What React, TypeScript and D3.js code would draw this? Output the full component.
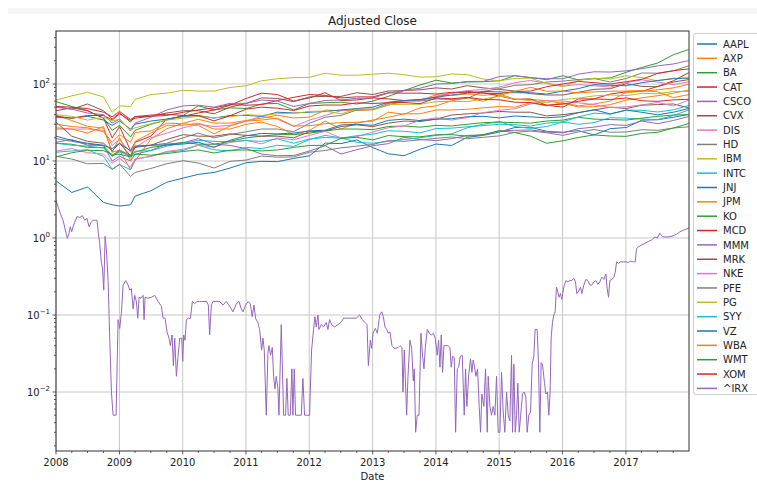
import React from "react";
import * as d3 from "d3";

const stockDates = [
  "2008-01-02", "2008-04-01", "2008-07-01", "2008-10-01", "2008-11-20", "2009-01-02", "2009-03-06", "2009-04-01", "2009-07-01", "2009-10-01",
  "2010-01-04", "2010-04-01", "2010-07-01", "2010-10-01",
  "2011-01-03", "2011-04-01", "2011-07-01", "2011-10-03",
  "2012-01-03", "2012-04-02", "2012-07-02", "2012-10-01",
  "2013-01-02", "2013-04-01", "2013-07-01", "2013-10-01",
  "2014-01-02", "2014-04-01", "2014-07-01", "2014-10-01",
  "2015-01-02", "2015-04-01", "2015-07-01", "2015-10-01",
  "2016-01-04", "2016-04-01", "2016-07-01", "2016-10-03",
  "2017-01-03", "2017-04-03", "2017-07-03", "2017-10-02",
  "2017-12-29",
];

const AAPL = [5.5, 3.9, 4.6, 2.9, 2.7, 2.6, 2.7, 3.5, 4.1, 5.3, 6.0, 6.7, 7.1, 8.1, 9.5, 9.9, 9.8, 10.8, 11.7, 17.1, 16.8, 18.8, 14.9, 12.4, 11.7, 14.2, 16.6, 15.9, 20.3, 21.5, 23.8, 27.2, 27.4, 24.3, 23.6, 24.8, 21.8, 26.3, 27.2, 33.9, 34.3, 37.0, 40.3];
const AXP = [39.5, 33.5, 28.2, 26.7, 13, 13.8, 7.7, 10.0, 19.2, 26.2, 30.9, 34.8, 31, 31.1, 33.6, 36, 39.2, 36.2, 37.1, 45.8, 45.1, 45.2, 46.1, 53.4, 60, 61, 72.3, 70.9, 74.3, 71.3, 73.9, 63.6, 62.9, 60.6, 56, 50.4, 50.6, 54, 61.7, 66.1, 70.5, 75.8, 83.6];
const BA = [59, 51, 45, 36, 25, 29, 20.5, 25, 30, 34, 39, 52, 46, 49, 48, 55, 56, 46, 56, 57, 58, 55, 60, 69, 82, 97, 112, 103, 106, 107, 110, 128, 121, 114, 128, 113, 117, 120, 142, 164, 187, 240, 280];
const CAT = [45, 49, 45, 36, 20, 28, 13.6, 17.5, 21, 35, 38, 42, 46, 53, 65, 76, 73, 60, 66, 77, 61, 62, 66, 64, 61, 62, 68, 76, 80, 77, 70, 63, 64, 53, 50, 64, 64, 74, 79, 80, 93, 110, 140];
const CSCO = [19.5, 18, 16.6, 15.8, 10, 11.5, 10, 12.2, 13.7, 16.6, 17.3, 19.5, 16.6, 15.9, 14.5, 12.3, 11.7, 11.8, 13.5, 15.8, 12.3, 14, 15.8, 16.8, 20.3, 19, 18.4, 19.5, 21.5, 21.8, 24.7, 25, 25.3, 23.8, 23.2, 26.3, 27.5, 29.7, 29, 33, 30.5, 33.6, 37.8];
const CVX = [51, 47, 55, 45, 35, 42, 32, 38, 38, 42, 45, 45, 41, 50, 56, 66, 65, 59, 68, 69, 69, 77, 73, 81, 82, 84, 89, 86, 95, 89, 85, 81, 75, 72, 72, 78, 85, 87, 101, 93, 92, 106, 114];
const DIS = [27, 26, 26, 25, 16, 19, 13, 15, 20, 23, 27, 30, 28, 29, 33, 38, 35, 28, 34, 39, 45, 47, 47, 53, 60, 61, 69, 76, 82, 85, 91, 104, 111, 102, 94, 98, 95, 91, 104, 113, 106, 98, 107];
const HD = [17.5, 19, 16, 16, 11.7, 14, 11.7, 15.6, 16, 17, 20, 23, 20, 22, 24, 26, 26, 24, 31, 37, 39, 46, 47, 56, 61, 60, 64, 63, 65, 80, 87, 96, 98, 106, 109, 114, 118, 106, 118, 139, 138, 148, 172];
const IBM = [62, 70, 78, 68, 43, 52, 51, 63, 73, 76, 83, 81, 81, 90, 95, 110, 117, 121, 122, 138, 130, 130, 134, 138, 132, 123, 124, 135, 132, 116, 110, 118, 119, 102, 92, 111, 119, 116, 128, 121, 110, 119, 118];
const INTC = [13, 13.5, 14, 11.5, 7.8, 9, 7.7, 10.5, 11.5, 13, 13.7, 16, 14, 13.5, 15, 14.5, 16, 15.5, 19, 21.5, 20, 17.5, 17, 18, 19, 20, 21.5, 22.5, 27, 30, 32.5, 28, 26.5, 28, 32, 30, 31.5, 36.5, 36, 35, 34.5, 39, 46];
const JNJ = [37, 36, 38, 34, 29, 33, 26, 30, 33, 35, 38, 39, 36, 39, 39, 38, 43, 42, 43, 44, 46, 48, 50, 58, 61, 63, 67, 72, 76, 80, 79, 77, 77, 74, 81, 87, 98, 96, 95, 104, 111, 117, 120];
const JPM = [26, 26, 23, 28, 13, 20, 10, 18, 23, 29, 29, 31, 26, 26, 30, 32, 28, 22, 25, 33, 26, 31, 34, 37, 41, 41, 46, 46, 47, 49, 51, 50, 57, 52, 57, 52, 55, 60, 78, 80, 84, 89, 99];
const KO = [17, 16.5, 15, 15, 11.6, 13.5, 11.5, 13, 15, 16, 17.5, 16.5, 16.5, 18, 20, 21, 22, 22, 23, 24.5, 26, 26, 25.5, 28, 28.5, 27.5, 29, 28.5, 30, 31.5, 32, 31.5, 31, 33, 34, 37, 35, 34.5, 34, 36, 38, 39.5, 40];
const MCD = [38, 36, 39, 39, 34, 41, 33.5, 36, 38, 39, 43, 46, 49, 54, 53, 54, 61, 67, 73, 71, 66, 68, 68, 77, 76, 76, 74, 78, 78, 76, 75, 80, 81, 92, 100, 108, 104, 100, 107, 115, 137, 149, 157];
const MMM = [50, 47, 42, 40, 31, 35, 24.5, 31, 37, 46, 52, 53, 50, 56, 56, 62, 60, 51, 56, 61, 62, 65, 66, 76, 83, 88, 100, 101, 108, 108, 125, 128, 121, 117, 117, 134, 144, 143, 148, 158, 172, 182, 201];
const MRK = [32, 21, 18, 17, 13.5, 17, 11.7, 15, 16, 19, 22, 21, 21, 22.5, 21.5, 21, 21, 20, 24, 24.5, 28, 29.5, 28, 31, 33, 32.5, 35, 39.5, 41, 42, 44, 43, 43, 38.5, 40, 42.5, 46, 50, 48, 53, 54, 55, 49];
const NKE = [13.5, 14.5, 12.8, 12.3, 9.4, 10.8, 8.3, 10.6, 11.5, 13.3, 14.2, 16, 15.2, 17.4, 18.6, 16.7, 19.9, 18.9, 21.5, 24.3, 19.9, 20.7, 23.8, 27, 28.5, 33.8, 36.3, 34, 36.6, 42.5, 45.5, 47.6, 55, 61, 60, 57, 54, 49.5, 50.5, 53.5, 57.5, 51.8, 61.7];
const PFE = [11.5, 10.6, 9.2, 9.3, 7.8, 9.1, 6.3, 7.1, 8, 9.2, 10.1, 9.4, 8.1, 9.9, 10.3, 11.6, 11.2, 11.3, 13, 13.7, 14.8, 15.6, 16.4, 18.4, 18, 18.8, 19.7, 20.5, 19.5, 20.3, 21.2, 23.5, 24.5, 23.3, 21.5, 23.8, 25.6, 23.6, 23.8, 25.5, 25, 26.8, 27.8];
const PG = [40, 38, 34, 37, 33, 35, 25, 27, 30.5, 34, 36, 38, 36.5, 37.5, 40, 39, 41, 41.5, 44, 44.5, 41, 47, 47, 54, 54.5, 54.5, 59, 59.5, 59, 63.5, 70, 63.5, 61, 57, 63, 65.5, 70, 72, 70.5, 75.5, 74.5, 80, 80];
const SYY = [17, 16, 15.6, 14.7, 11.5, 13.2, 11.5, 13.4, 13.6, 15.6, 17, 18.5, 18, 17.8, 18.4, 18, 19.4, 17, 19.3, 20.2, 19.8, 21.3, 22.3, 24.7, 24.3, 23.2, 26.4, 26.7, 27.8, 28.8, 30, 29.6, 28.4, 31, 32.3, 37.4, 41.8, 40.6, 45.8, 45.5, 43.3, 46.2, 52.6];
const VZ = [21, 18.5, 17, 16, 14.5, 17, 13.5, 15.5, 16, 16.2, 16.6, 17.5, 15, 18.6, 21.3, 22.8, 22.5, 23, 24.6, 25.1, 29.4, 29.9, 29.1, 33.7, 35, 33.5, 34.8, 35.4, 37.5, 38, 36.3, 38.4, 37.4, 36.4, 37.6, 42.3, 46.2, 40.9, 45.8, 42.9, 39.8, 43, 48];
const WBA = [30, 28, 27, 24, 17.5, 22, 17.5, 23.5, 24.5, 31, 30.5, 29, 22.5, 28.5, 33, 34, 36, 28.5, 28.7, 30.5, 31.5, 31.8, 33, 43, 40.5, 49, 52, 60.5, 66.5, 59.5, 71, 80, 90.5, 80.5, 81, 76.5, 79, 80.5, 81, 82.5, 79, 66.5, 72.8];
const WMT = [11.3, 12.8, 13.8, 13.6, 12.2, 12.2, 11.3, 12.3, 11.9, 12.5, 13.3, 13.9, 12.7, 13.8, 13.9, 13.5, 13.9, 15, 15.9, 16, 19.6, 20.3, 18.8, 21.4, 20.7, 20.6, 21.9, 22, 21, 22, 24.7, 23.4, 21, 17, 18.3, 20.2, 21.8, 21.1, 20.9, 22.8, 23.6, 26.8, 30.6];
const XOM = [51, 50, 48, 43, 37.5, 44, 34.5, 37.5, 39.5, 40.5, 39, 38.8, 33.2, 38.7, 47.2, 50, 48.5, 45.3, 51.8, 53.3, 53.2, 56.8, 55.9, 57, 57.5, 55.5, 65.8, 64.3, 67, 63, 62.3, 58, 57.3, 53, 54.8, 59.6, 63.8, 63, 65.8, 60.5, 59.5, 62.2, 63.3];

const irxYears = [
  2008.000, 2008.032, 2008.068, 2008.111, 2008.147, 2008.179, 2008.205, 2008.226, 2008.247, 2008.268, 2008.295, 2008.332, 2008.374, 2008.416, 2008.453, 2008.489, 2008.521, 2008.553, 2008.584, 2008.621, 2008.647, 2008.668,
  2008.689, 2008.716, 2008.732, 2008.753, 2008.774, 2008.795, 2008.821, 2008.847, 2008.874, 2008.900, 2008.947, 2008.979, 2009.005, 2009.032, 2009.058, 2009.100, 2009.137, 2009.163, 2009.189, 2009.216, 2009.242, 2009.268, 2009.289, 2009.311, 2009.342, 2009.374, 2009.389, 2009.405, 2009.453, 2009.505, 2009.558, 2009.611, 2009.663, 2009.689, 2009.721, 2009.753, 2009.784, 2009.805, 2009.832, 2009.853, 2009.874, 2009.900, 2009.926, 2009.953, 2009.984,
  2010.000, 2010.016, 2010.037, 2010.058, 2010.089, 2010.121, 2010.153, 2010.189, 2010.226, 2010.268, 2010.321, 2010.374, 2010.405, 2010.426, 2010.453, 2010.479, 2010.584, 2010.637, 2010.689, 2010.742, 2010.795, 2010.847, 2010.889, 2010.926, 2010.953, 2010.995,
  2011.037, 2011.068, 2011.100, 2011.126, 2011.153, 2011.189, 2011.216, 2011.247, 2011.268, 2011.289, 2011.321, 2011.347, 2011.363, 2011.389, 2011.416, 2011.437, 2011.458, 2011.479, 2011.505, 2011.521, 2011.558, 2011.595, 2011.626, 2011.647, 2011.668, 2011.700, 2011.726, 2011.742, 2011.763, 2011.784, 2011.874, 2011.900, 2011.926,
  2012.005, 2012.037, 2012.068, 2012.089, 2012.111, 2012.137, 2012.153, 2012.189, 2012.226, 2012.268, 2012.295, 2012.321, 2012.353, 2012.400, 2012.453, 2012.505, 2012.542, 2012.584, 2012.637, 2012.689, 2012.742, 2012.795, 2012.837, 2012.879, 2012.911, 2012.932, 2012.963, 2012.984,
  2013.005, 2013.042, 2013.074, 2013.111, 2013.142, 2013.168, 2013.195, 2013.221, 2013.247, 2013.274, 2013.305, 2013.337, 2013.368, 2013.405, 2013.432, 2013.463, 2013.479, 2013.500, 2013.537, 2013.558, 2013.589, 2013.616, 2013.642, 2013.658, 2013.679, 2013.705, 2013.732, 2013.763, 2013.789, 2013.811, 2013.832, 2013.863, 2013.895, 2013.926, 2013.958, 2013.989,
  2014.021, 2014.042, 2014.063, 2014.084, 2014.105, 2014.126, 2014.158, 2014.189, 2014.221, 2014.242, 2014.263, 2014.289, 2014.311, 2014.337, 2014.358, 2014.384, 2014.416, 2014.447, 2014.468, 2014.489, 2014.516, 2014.547, 2014.568, 2014.589, 2014.611, 2014.632, 2014.658, 2014.684, 2014.705, 2014.726, 2014.758, 2014.784, 2014.811, 2014.826, 2014.853, 2014.879, 2014.905, 2014.932, 2014.958, 2014.984,
  2015.011, 2015.037, 2015.063, 2015.089, 2015.116, 2015.142, 2015.168, 2015.195, 2015.211, 2015.232, 2015.253, 2015.274, 2015.295, 2015.316, 2015.337, 2015.368, 2015.395, 2015.421, 2015.442, 2015.468, 2015.495, 2015.521, 2015.547, 2015.568, 2015.600, 2015.621, 2015.642, 2015.663, 2015.684, 2015.716, 2015.737, 2015.763, 2015.784, 2015.805, 2015.821, 2015.842, 2015.863, 2015.884, 2015.905, 2015.926, 2015.947, 2015.968, 2015.989,
  2016.021, 2016.053, 2016.084, 2016.116, 2016.147, 2016.179, 2016.205, 2016.226, 2016.247, 2016.284, 2016.305, 2016.337, 2016.368, 2016.400, 2016.432, 2016.463, 2016.495, 2016.526, 2016.558, 2016.589, 2016.621, 2016.653, 2016.684, 2016.705, 2016.726, 2016.747, 2016.779, 2016.811, 2016.832, 2016.853, 2016.884, 2016.916, 2016.958,
  2017.000, 2017.037, 2017.074, 2017.116, 2017.147, 2017.168, 2017.200, 2017.247, 2017.300, 2017.353, 2017.405, 2017.458, 2017.495, 2017.537, 2017.579, 2017.632, 2017.695, 2017.747, 2017.800, 2017.853, 2017.905, 2017.995,
];
const irxValues = [
  3.1, 2.55, 2.1, 1.7, 1.27, 0.99, 1.15, 1.4, 1.2, 1.4, 1.6, 1.9, 1.85, 1.95, 1.7, 1.8, 1.4, 1.6, 1.7, 1.7, 1.7, 1.15,
  0.85, 0.47, 0.41, 0.21, 1.05, 0.7, 0.28, 0.05, 0.01, 0.005, 0.005, 0.087, 0.067, 0.11, 0.245, 0.28, 0.245, 0.21, 0.22, 0.12, 0.18, 0.15, 0.091, 0.17, 0.165, 0.18, 0.087, 0.17, 0.165, 0.17, 0.18, 0.15, 0.13, 0.091, 0.091, 0.06, 0.05, 0.04, 0.055, 0.022, 0.05, 0.016, 0.029, 0.05, 0.05,
  0.025, 0.055, 0.047, 0.087, 0.091, 0.09, 0.15, 0.14, 0.15, 0.15, 0.15, 0.15, 0.135, 0.055, 0.135, 0.15, 0.15, 0.135, 0.15, 0.13, 0.11, 0.14, 0.15, 0.12, 0.11, 0.135,
  0.15, 0.14, 0.095, 0.135, 0.09, 0.08, 0.065, 0.035, 0.05, 0.035, 0.005, 0.032, 0.04, 0.03, 0.038, 0.016, 0.011, 0.016, 0.011, 0.005, 0.075, 0.005, 0.005, 0.015, 0.005, 0.005, 0.02, 0.005, 0.02, 0.005, 0.005, 0.015, 0.005,
  0.005, 0.035, 0.065, 0.095, 0.07, 0.1, 0.065, 0.075, 0.07, 0.08, 0.065, 0.087, 0.075, 0.07, 0.075, 0.081, 0.091, 0.091, 0.091, 0.091, 0.091, 0.1, 0.087, 0.08, 0.075, 0.022, 0.047, 0.037,
  0.058, 0.067, 0.058, 0.1, 0.11, 0.095, 0.07, 0.065, 0.058, 0.06, 0.04, 0.037, 0.037, 0.038, 0.04, 0.038, 0.01, 0.035, 0.005, 0.016, 0.047, 0.037, 0.014, 0.02, 0.003, 0.005, 0.005, 0.058, 0.029, 0.02, 0.038, 0.065, 0.058, 0.055, 0.058, 0.05,
  0.03, 0.047, 0.021, 0.055, 0.018, 0.04, 0.04, 0.04, 0.038, 0.021, 0.029, 0.028, 0.003, 0.02, 0.021, 0.029, 0.03, 0.005, 0.02, 0.0065, 0.016, 0.027, 0.018, 0.026, 0.021, 0.016, 0.02, 0.0065, 0.003, 0.0094, 0.0065, 0.02, 0.003, 0.016, 0.0065, 0.005, 0.0065, 0.005, 0.016, 0.003,
  0.003, 0.018, 0.0055, 0.003, 0.01, 0.005, 0.0042, 0.03, 0.003, 0.023, 0.003, 0.005, 0.013, 0.003, 0.0047, 0.0094, 0.01, 0.0087, 0.003, 0.005, 0.0055, 0.023, 0.029, 0.065, 0.065, 0.023, 0.003, 0.024, 0.023, 0.013, 0.0094, 0.01, 0.005, 0.01, 0.05, 0.08, 0.1, 0.11, 0.23, 0.2, 0.17, 0.19, 0.16,
  0.23, 0.28, 0.27, 0.28, 0.28, 0.3, 0.27, 0.19, 0.2, 0.23, 0.19, 0.245, 0.29, 0.28, 0.245, 0.245, 0.27, 0.28, 0.25, 0.27, 0.31, 0.29, 0.34, 0.22, 0.17, 0.28, 0.29, 0.31, 0.36, 0.49, 0.47, 0.49, 0.49,
  0.49, 0.48, 0.5, 0.49, 0.49, 0.73, 0.77, 0.81, 0.85, 0.9, 0.94, 1.03, 1.0, 1.15, 1.04, 1.03, 1.04, 1.07, 1.12, 1.2, 1.26, 1.35,
];

const seriesNames = ["AAPL", "AXP", "BA", "CAT", "CSCO", "CVX", "DIS", "HD", "IBM", "INTC", "JNJ", "JPM", "KO", "MCD", "MMM", "MRK", "NKE", "PFE", "PG", "SYY", "VZ", "WBA", "WMT", "XOM", "^IRX"];
const stockValues = [AAPL, AXP, BA, CAT, CSCO, CVX, DIS, HD, IBM, INTC, JNJ, JPM, KO, MCD, MMM, MRK, NKE, PFE, PG, SYY, VZ, WBA, WMT, XOM];
const yearTicks = [2008, 2009, 2010, 2011, 2012, 2013, 2014, 2015, 2016, 2017];
const decadeTicks = [-2, -1, 0, 1, 2];

const W = 757;
const H = 484;
const M = { left: 56, right: 689, top: 31, bottom: 451 };
const FONT = "DejaVu Sans, sans-serif";

function fracYearToDate(fy: number): Date {
  const y = Math.floor(fy);
  const s = new Date(y, 0, 1).getTime();
  const e = new Date(y + 1, 0, 1).getTime();
  return new Date(s + (fy - y) * (e - s));
}

export default function App() {
  const parse = d3.timeParse("%Y-%m-%d");
  const x = d3.scaleTime().domain([new Date(2008, 0, 1), new Date(2017, 11, 31)]).range([M.left, M.right]);
  const y = d3.scaleLog().domain([0.001714, 487.6]).range([M.bottom, M.top]);
  const colors = d3.schemeCategory10;

  const dates = stockDates.map((s) => parse(s) as Date);
  type Pt = { d: Date; v: number };
  const line = d3.line<Pt>().x((p) => x(p.d)).y((p) => y(p.v));

  const series: { name: string; pts: Pt[] }[] = stockValues.map((vals, i) => ({
    name: seriesNames[i],
    pts: vals.map((v, j) => ({ d: dates[j], v })),
  }));
  series.push({ name: "^IRX", pts: irxYears.map((fy, j) => ({ d: fracYearToDate(fy), v: irxValues[j] })) });

  const minorY: number[] = [];
  for (let e = -3; e <= 2; e++) for (let k = 2; k <= 9; k++) {
    const v = k * Math.pow(10, e);
    if (v >= 0.001714 && v <= 487.6) minorY.push(v);
  }
  const minorX: Date[] = [];
  yearTicks.forEach((yr) => [3, 6, 9].forEach((m) => minorX.push(new Date(yr, m, 1))));

  const legendY0 = 44;
  const legendStep = 14.35;

  return (
    <svg width={W} height={H} style={{ position: "absolute", left: 0, top: 0, background: "#fff" }} fontFamily={FONT}>
      <rect x={8} y={8} width={W - 8} height={6} fill="#f6f6f6" />
      <defs>
        <clipPath id="plotclip">
          <rect x={M.left} y={M.top} width={M.right - M.left} height={M.bottom - M.top} />
        </clipPath>
      </defs>
      <text x={(M.left + M.right) / 2} y={25} textAnchor="middle" fontSize={12} fill="#222">Adjusted Close</text>

      {/* grid */}
      <g stroke="#c8c8c8" strokeWidth={1}>
        {yearTicks.map((yr) => (
          <line key={"gx" + yr} x1={x(new Date(yr, 0, 1))} x2={x(new Date(yr, 0, 1))} y1={M.top} y2={M.bottom} />
        ))}
        {decadeTicks.map((e) => (
          <line key={"gy" + e} x1={M.left} x2={M.right} y1={y(Math.pow(10, e))} y2={y(Math.pow(10, e))} />
        ))}
      </g>

      {/* lines */}
      <g clipPath="url(#plotclip)" fill="none">
        {series.map((s, i) => (
          <path key={s.name} d={line(s.pts) || ""} stroke={colors[i % 10]} strokeWidth={1} strokeLinejoin="round" />
        ))}
      </g>

      {/* frame */}
      <rect x={M.left} y={M.top} width={M.right - M.left} height={M.bottom - M.top} fill="none" stroke="#333" strokeWidth={1} />

      {/* x axis */}
      <g stroke="#333" strokeWidth={0.8}>
        {yearTicks.map((yr) => (
          <line key={"tx" + yr} x1={x(new Date(yr, 0, 1))} x2={x(new Date(yr, 0, 1))} y1={M.bottom} y2={M.bottom + 3.5} />
        ))}
        {minorX.map((d, i) => (
          <line key={"mx" + i} x1={x(d)} x2={x(d)} y1={M.bottom} y2={M.bottom + 2} />
        ))}
      </g>
      <g fontSize={10} fill="#222" textAnchor="middle">
        {yearTicks.map((yr) => (
          <text key={"lx" + yr} x={x(new Date(yr, 0, 1))} y={466}>{yr}</text>
        ))}
        <text x={(M.left + M.right) / 2} y={480}>Date</text>
      </g>

      {/* y axis */}
      <g stroke="#333" strokeWidth={0.8}>
        {decadeTicks.map((e) => (
          <line key={"ty" + e} x1={M.left - 3.5} x2={M.left} y1={y(Math.pow(10, e))} y2={y(Math.pow(10, e))} />
        ))}
        {minorY.map((v, i) => (
          <line key={"my" + i} x1={M.left - 2} x2={M.left} y1={y(v)} y2={y(v)} />
        ))}
      </g>
      <g fontSize={10} fill="#222" textAnchor="end">
        {decadeTicks.map((e) => (
          <text key={"ly" + e} x={50} y={y(Math.pow(10, e)) + 4}>
            10<tspan fontSize={7} dy={-5}>{e < 0 ? "\u2212" + Math.abs(e) : String(e)}</tspan>
          </text>
        ))}
      </g>

      {/* legend */}
      <rect x={693.5} y={33.5} width={70} height={361} rx={2} fill="#fff" fillOpacity={0.8} stroke="#cccccc" strokeWidth={1} />
      <g fontSize={10} fill="#222">
        {seriesNames.map((n, i) => {
          const ly = legendY0 + i * legendStep;
          return (
            <g key={"lg" + n}>
              <line x1={697} x2={717} y1={ly} y2={ly} stroke={colors[i % 10]} strokeWidth={1.5} />
              <text x={723} y={ly + 3.6}>{n}</text>
            </g>
          );
        })}
      </g>
    </svg>
  );
}
